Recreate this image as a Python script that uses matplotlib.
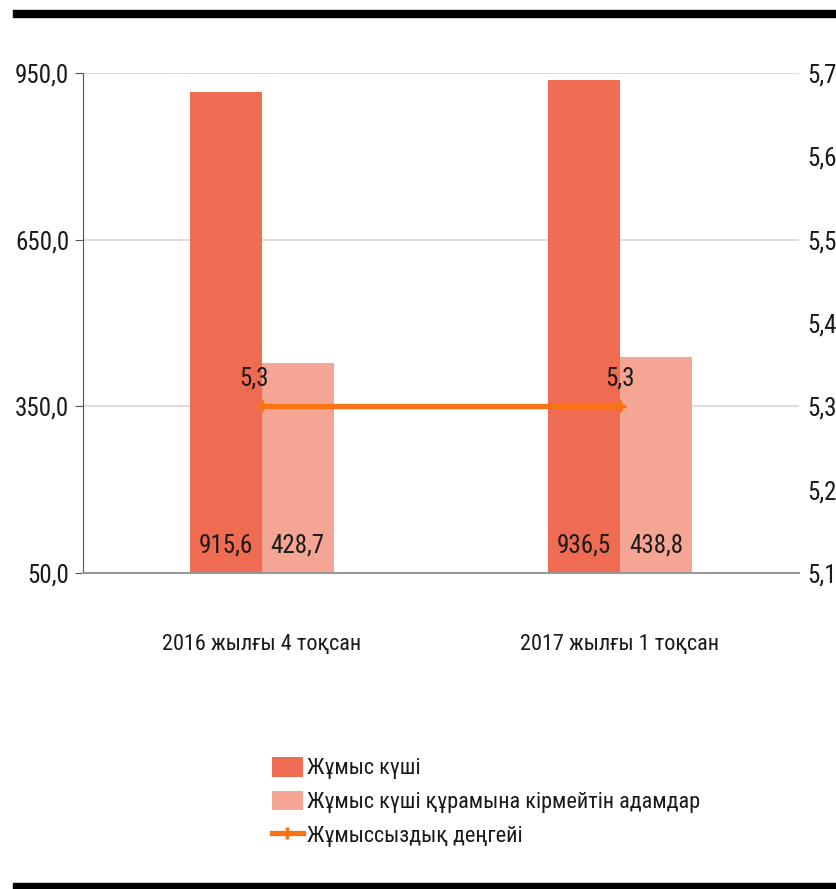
import matplotlib
matplotlib.use("Agg")
import matplotlib.pyplot as plt
from matplotlib import font_manager
from matplotlib.patches import Rectangle

# данные
categories = ["2016 жылғы 4 тоқсан", "2017 жылғы 1 тоқсан"]
labour_force = [915.6, 936.5]
not_in_labour = [428.7, 438.8]
unemployment = [5.3, 5.3]
series_names = ["Жұмыс күші",
                "Жұмыс күші құрамына кірмейтін адамдар",
                "Жұмыссыздық деңгейі"]
left_ticks = [50, 350, 650, 950]
right_ticks = [5.1, 5.2, 5.3, 5.4, 5.5, 5.6, 5.7]

# узкий шрифт, если есть
installed = {f.name for f in font_manager.fontManager.ttflist}
family = "DejaVu Sans"
for name in ["Liberation Sans Narrow", "Roboto Condensed", "Open Sans Condensed",
             "DejaVu Sans Condensed", "Liberation Sans"]:
    if name in installed:
        family = name
        break
plt.rcParams['font.family'] = [family, 'DejaVu Sans']
fs = 18
fs_small = 16

c_dark = "#EF6B51"
c_light = "#F4A594"
c_line = "#F97314"
c_text = "#1a1a1a"

fig = plt.figure(figsize=(8.36, 8.89), dpi=100)
ax = fig.add_axes([0.0993, 0.3555, 0.8564, 0.5624])

x = list(range(len(categories)))
w = 0.2
b1 = ax.bar([i - w / 2 for i in x], labour_force, width=w, color=c_dark,
            zorder=2, label=series_names[0])
b2 = ax.bar([i + w / 2 for i in x], not_in_labour, width=w, color=c_light,
            zorder=2, label=series_names[1])

for i in x:
    ax.text(i - w / 2, 100, f"{labour_force[i]:.1f}".replace(".", ","),
            ha='center', va='center', fontsize=fs, color=c_text, zorder=4)
    ax.text(i + w / 2, 100, f"{not_in_labour[i]:.1f}".replace(".", ","),
            ha='center', va='center', fontsize=fs, color=c_text, zorder=4)

ax.set_xlim(-0.5, 1.5)
ax.set_ylim(50, 950)
ax.set_yticks(left_ticks)
ax.set_yticklabels([f"{v:.1f}".replace(".", ",") for v in left_ticks],
                   fontsize=fs, color=c_text)
ax.set_xticks(x)
ax.set_xticklabels(categories, fontsize=fs_small, color=c_text)
ax.tick_params(axis='x', length=0, pad=44)
ax.tick_params(axis='y', length=6, color="#555555", pad=4)
ax.grid(axis='y', color="#dddddd", linewidth=1.5, zorder=0)
for s in ['top', 'right']:
    ax.spines[s].set_visible(False)
ax.spines['left'].set_color("#555555")
ax.spines['bottom'].set_color("#999999")
ax.spines['bottom'].set_linewidth(1.5)

ax2 = ax.twinx()
ax2.set_ylim(5.1, 5.7)
ax2.set_yticks(right_ticks)
ax2.set_yticklabels([f"{v:.1f}".replace(".", ",") for v in right_ticks],
                    fontsize=fs, color=c_text)
ax2.tick_params(axis='y', length=0, pad=6)
for s in ['top', 'right', 'left', 'bottom']:
    ax2.spines[s].set_visible(False)
ln, = ax2.plot(x, unemployment, color=c_line, linewidth=3.8, marker='+',
               markersize=9, markeredgewidth=2.5, zorder=5, label=series_names[2])
for i in x:
    ax2.annotate(f"{unemployment[i]:.1f}".replace(".", ","), (i, unemployment[i]),
                 xytext=(-6 if i == 0 else 0, 20), textcoords='offset points',
                 ha='center', va='center', fontsize=fs, color=c_text)

fig.legend(handles=[b1, b2, ln], loc='upper left',
           bbox_to_anchor=(263 / 836, 1 - 748 / 889), frameon=False,
           fontsize=fs_small, handlelength=1.4, handleheight=1.0, handletextpad=0.2,
           labelspacing=0.5, borderaxespad=0)
for t in fig.legends[0].get_texts():
    t.set_color(c_text)

# чёрные полосы сверху и снизу
fig.patches.append(Rectangle((13 / 836, 1 - 17 / 889), 1, 7 / 889,
                             transform=fig.transFigure, color="black"))
fig.patches.append(Rectangle((13 / 836, 0), 1, 6 / 889,
                             transform=fig.transFigure, color="black"))

fig.savefig("out.png", dpi=100)
